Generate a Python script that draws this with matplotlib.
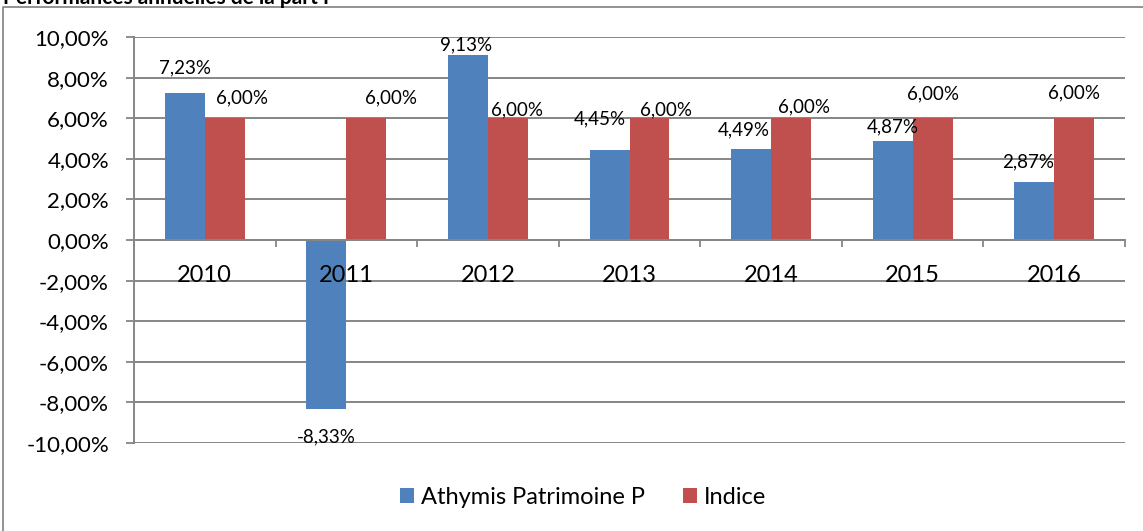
import matplotlib
matplotlib.use("Agg")
import matplotlib.pyplot as plt
from matplotlib.lines import Line2D
from matplotlib.patches import Patch
import numpy as np

# ---- data ----
years = ["2010", "2011", "2012", "2013", "2014", "2015", "2016"]
athymis = [7.23, -8.33, 9.13, 4.45, 4.49, 4.87, 2.87]
indice = [6.00, 6.00, 6.00, 6.00, 6.00, 6.00, 6.00]
yticks = [-10, -8, -6, -4, -2, 0, 2, 4, 6, 8, 10]
series_names = ["Athymis Patrimoine P", "Indice"]
title = "Performances annuelles de la part P"

BLUE = "#4F81BD"
RED = "#C0504D"
GRID = "#868686"
FONT = ["Lato", "DejaVu Sans"]
plt.rcParams["font.family"] = FONT

def fmt(v):
    return ("%.2f%%" % v).replace(".", ",")

W, H = 1143, 531
fig = plt.figure(figsize=(W / 100, H / 100), dpi=100)
ax = fig.add_axes([134 / W, 1 - 443 / H, (1125 - 134) / W, (443 - 37) / H])

x = np.arange(len(years)) + 0.5
bw = 0.2825
b1 = ax.bar(x - bw / 2, athymis, bw, color=BLUE, zorder=3)
b2 = ax.bar(x + bw / 2, indice, bw, color=RED, zorder=3)

ax.set_xlim(0, len(years))
ax.set_ylim(-10, 10)
ax.set_yticks(yticks)
ax.set_yticklabels([fmt(v) for v in yticks], fontsize=16)
ax.yaxis.grid(True, color=GRID, linewidth=1.4, zorder=0)
ax.tick_params(axis="y", length=6, width=1.3, color=GRID, pad=12, direction="out")

# x axis at zero with category boundary ticks
ax.spines["bottom"].set_position(("data", 0))
ax.spines["bottom"].set_color(GRID)
ax.spines["bottom"].set_linewidth(1.4)
ax.spines["bottom"].set_zorder(4)
ax.spines["left"].set_color(GRID)
ax.spines["left"].set_linewidth(1.4)
ax.spines["top"].set_visible(False)
ax.spines["right"].set_visible(False)
ax.set_xticks(np.arange(len(years) + 1))
ax.set_xticklabels([""] * (len(years) + 1))
ax.tick_params(axis="x", which="major", length=5, width=1.3, color=GRID, direction="out")

# category labels drawn on top of the bars (as in the original)
cat_trans = ax.get_xaxis_transform()
for xi, yr in zip(x, years):
    ax.annotate(yr, (xi, 0), xycoords=("data", "data"), xytext=(0, -36),
                textcoords="offset pixels", ha="center", va="center",
                fontsize=17, color="black", zorder=7, annotation_clip=False)

# data labels (manual placement offsets in pixels, like the original chart)
blue_off = [(0, 25), (0, -28), (-2, 10), (-10, 31), (-7, 19), (0, 14), (-6, 20)]
red_off = [(17, 20), (25, 20), (9, 8), (17, 8), (13, 11), (0, 24), (0, 25)]
for bars, vals, offs in ((b1, athymis, blue_off), (b2, indice, red_off)):
    for rect, v, (dx, dy) in zip(bars, vals, offs):
        cx = rect.get_x() + rect.get_width() / 2
        ax.annotate(fmt(v), (cx, v), xytext=(dx, dy), textcoords="offset pixels",
                    ha="center", va="center", fontsize=13.5, color="black", zorder=6)

# legend
handles = [Patch(facecolor=BLUE, edgecolor="none"), Patch(facecolor=RED, edgecolor="none")]
fig.legend(handles, series_names, loc="center", bbox_to_anchor=(583 / W, 1 - 497 / H),
           ncol=2, frameon=False, fontsize=17, handlelength=0.6, handleheight=0.6,
           handletextpad=0.3, columnspacing=1.6)

# outer chart border (left and top only visible)
fig.add_artist(Line2D([3 / W, 3 / W, 1.0], [0.0, 1 - 7 / H, 1 - 7 / H],
                      transform=fig.transFigure, color="#8a8a8a", linewidth=1.3))

# title at the very top, cut off as in the reference
fig.text(3 / W, 1 - 4 / H, title, fontsize=15, fontweight="bold", ha="left",
         va="baseline", color="black")

fig.savefig("out.png", dpi=100)
